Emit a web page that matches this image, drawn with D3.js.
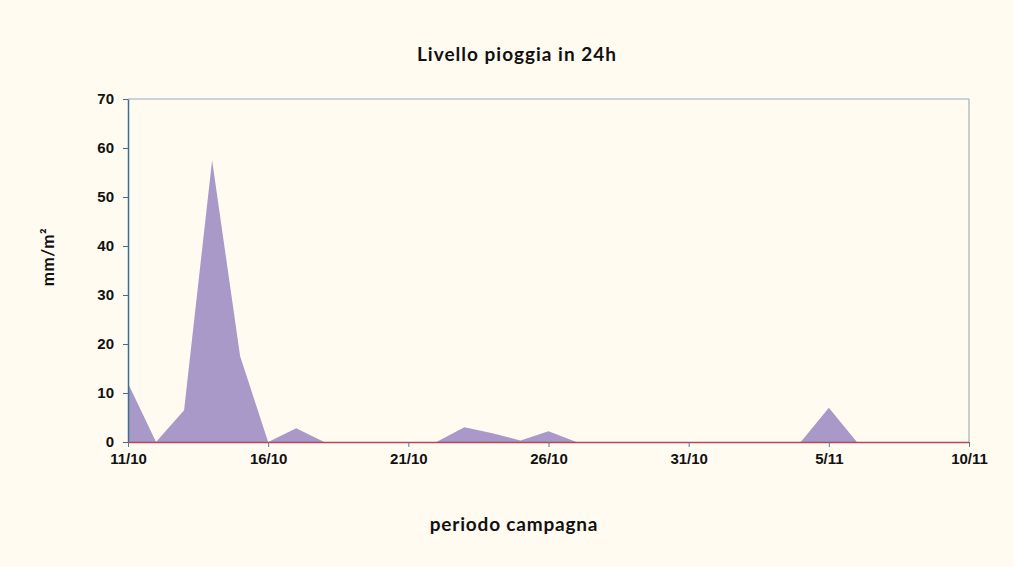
<!DOCTYPE html>
<html>
<head>
<meta charset="utf-8">
<script src="https://cdn.jsdelivr.net/npm/d3@7"></script>
<style>
  html, body { margin: 0; padding: 0; background: #fffbf0; }
  svg { display: block; }
</style>
</head>
<body>
<svg id="chart" width="1013" height="567"></svg>
<script>
// Daily rainfall (mm/m²), 11 Oct – 10 Nov
const rainfall = [
  12, 0, 6.5, 57.5, 17.5, 0, 2.8, 0, 0, 0,
  0, 0, 3, 1.8, 0.3, 2.2, 0, 0, 0, 0,
  0, 0, 0, 0, 0, 7, 0, 0, 0, 0, 0
];
const yTicks = [0, 10, 20, 30, 40, 50, 60, 70];
const xTickLabels = ["11/10", "16/10", "21/10", "26/10", "31/10", "5/11", "10/11"];
const xTickDays = [0, 5, 10, 15, 20, 25, 30];

const titleText = "Livello pioggia in 24h";
const xTitle = "periodo campagna";
const yTitle = "mm/m²";

const svg = d3.select("#chart");
const W = 1013, H = 567;
const m = { left: 128, right: 1013 - 969, top: 99, bottom: 567 - 442 };

svg.append("rect").attr("width", W).attr("height", H).attr("fill", "#fffbf0");

const x = d3.scaleLinear().domain([0, 30]).range([m.left, W - m.right]);
const y = d3.scaleLinear().domain([0, 70]).range([H - m.bottom, m.top]);

// plot frame (top and right)
svg.append("line").attr("x1", x(0)).attr("x2", x(30)).attr("y1", y(70)).attr("y2", y(70))
  .attr("stroke", "#8fb0bf").attr("stroke-width", 1.2);
svg.append("line").attr("x1", x(30)).attr("x2", x(30)).attr("y1", y(70)).attr("y2", y(0))
  .attr("stroke", "#a7b0b8").attr("stroke-width", 1.2);

// rainfall area
const area = d3.area()
  .x((d, i) => x(i))
  .y0(y(0))
  .y1(d => y(d));
svg.append("path").datum(rainfall)
  .attr("d", area)
  .attr("fill", "#a899c8");

const tickFont = "'Liberation Sans', Arial, sans-serif";

// y axis
const yAxis = d3.axisLeft(y).tickValues(yTicks).tickSize(5).tickSizeOuter(0);
const gy = svg.append("g").attr("transform", `translate(${x(0)},0)`).call(yAxis);
gy.select(".domain").attr("stroke", "#3c6f8c").attr("stroke-width", 1.5);
gy.selectAll(".tick line").attr("stroke", "#3c6f8c");
gy.selectAll(".tick text")
  .attr("x", -14)
  .attr("fill", "#111")
  .style("font-family", tickFont)
  .style("font-weight", "bold")
  .style("font-size", "15px");

// x axis
const xAxis = d3.axisBottom(x).tickValues(xTickDays)
  .tickFormat((d, i) => xTickLabels[i]).tickSize(5).tickSizeOuter(0);
const gx = svg.append("g").attr("transform", `translate(0,${y(0)})`).call(xAxis);
gx.select(".domain").attr("stroke", "#b5455a").attr("stroke-width", 1.5);
gx.selectAll(".tick line").attr("stroke", "#5a7d95");
gx.selectAll(".tick text")
  .attr("y", 11)
  .attr("fill", "#111")
  .style("font-family", tickFont)
  .style("font-weight", "bold")
  .style("font-size", "15px");

// titles
const titleFont = "Lato, 'Open Sans', sans-serif";
svg.append("text").attr("x", 517).attr("y", 61).attr("text-anchor", "middle")
  .style("font-family", titleFont).style("font-weight", "bold").style("font-size", "19px")
  .style("letter-spacing", "1px")
  .attr("fill", "#111").text(titleText);
svg.append("text").attr("x", 514).attr("y", 531).attr("text-anchor", "middle")
  .style("font-family", titleFont).style("font-weight", "bold").style("font-size", "19px")
  .style("letter-spacing", "0.8px")
  .attr("fill", "#111").text(xTitle);
svg.append("text")
  .attr("transform", "translate(54,257) rotate(-90)")
  .attr("text-anchor", "middle")
  .style("font-family", titleFont).style("font-weight", "bold").style("font-size", "17px")
  .style("letter-spacing", "0.5px")
  .attr("fill", "#111").text(yTitle);
</script>
</body>
</html>
